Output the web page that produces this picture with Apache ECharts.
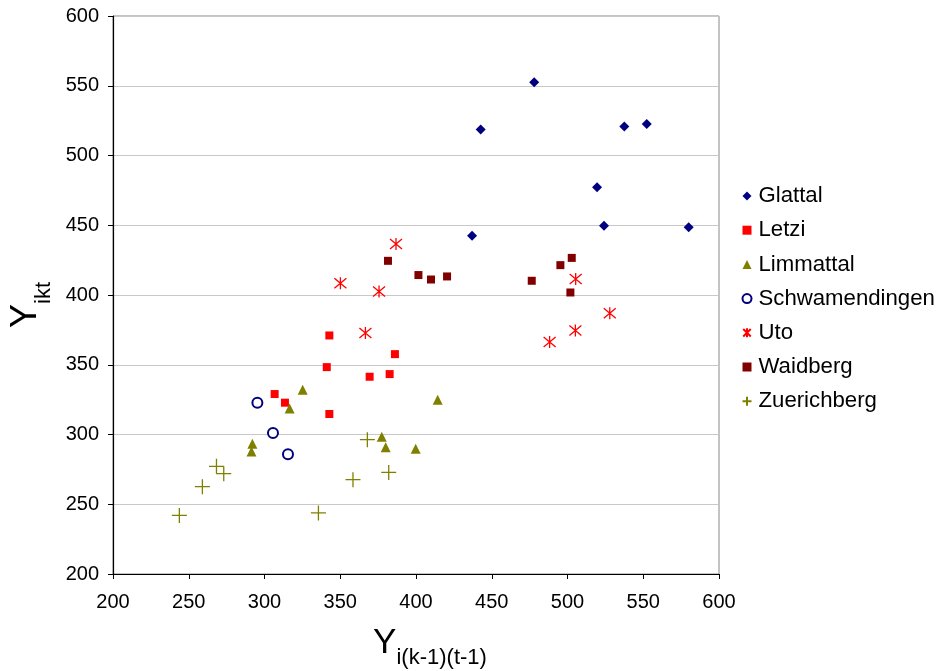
<!DOCTYPE html>
<html>
<head>
<meta charset="utf-8">
<script src="https://cdn.jsdelivr.net/npm/echarts@6/dist/echarts.min.js"></script>
<style>
  html, body { margin: 0; padding: 0; background: #fff; }
  #chart { width: 940px; height: 671px; }
</style>
</head>
<body>
<div id="chart"></div>
<script>
// data points [x, y] per region
var glattal = [[478, 552.5], [442.7, 518.6], [537.5, 520.7], [552.3, 522.6], [519.5, 477.3],
               [524.1, 449.6], [580, 448.6], [437, 442.4]];
var letzi = [[342.8, 371], [341.1, 348.3], [386.1, 357.6], [369.4, 341.4], [382.6, 343.3],
             [306.7, 329], [313.5, 322.8], [342.8, 314.7]];
var limmattal = [[325.2, 332.1], [316.6, 318.7], [292, 293.4], [291.4, 287.9], [377.4, 298.4],
                 [380, 290.8], [399.8, 289.8], [414.3, 325]];
var schwamendingen = [[295.3, 322.8], [305.6, 301.1], [315.5, 285.8]];
var uto = [[350.1, 408.5], [386.8, 436.5], [375.6, 402.5], [505.4, 411.4], [366.6, 372.7],
           [488.2, 366.3], [505.2, 374.6], [527.9, 387]];
var waidberg = [[381.5, 424.5], [401.6, 414.3], [409.9, 411.1], [420.5, 413.3], [476.4, 410.2],
                [495.3, 421.4], [502.8, 426.6], [501.9, 401.8]];
var zuerichberg = [[243.8, 242], [259, 262.6], [268.3, 277.2], [273.1, 271.9], [335.6, 243.8],
                   [358.4, 267.6], [367.9, 296.3], [382, 272.8]];

var seriesNames = ['Glattal', 'Letzi', 'Limmattal', 'Schwamendingen', 'Uto', 'Waidberg', 'Zuerichberg'];

var starPath = 'path://M0,0L10,10M10,0L0,10M5,-1L5,11';
var plusPath = 'path://M6,0L6,12M0,6L12,6';

var xTitleRich = {
    a: { fontSize: 35, color: '#000', verticalAlign: 'bottom' },
    b: { fontSize: 22, color: '#000', verticalAlign: 'bottom', padding: [0, 0, -8, 0] }
};
var yTitleRich = {
    a: { fontSize: 36, color: '#000', verticalAlign: 'bottom' },
    b: { fontSize: 22, color: '#000', verticalAlign: 'bottom', padding: [0, 0, -11, 0] }
};

var myChart = echarts.init(document.getElementById('chart'));
var option = {
    animation: false,
    textStyle: { fontFamily: 'Arial, "Liberation Sans", sans-serif' },
    grid: {
        left: 113,
        right: 221,
        top: 16,
        bottom: 97,
        show: true,
        borderColor: '#888888',
        borderWidth: 1,
        containLabel: false,
        outerBoundsMode: 'none'
    },
    legend: {
        orient: 'vertical',
        left: 735,
        top: 180,
        itemGap: 12.2,
        itemWidth: 9,
        itemHeight: 9,
        textStyle: { fontSize: 22.2, color: '#000', padding: [0, 0, 0, 2] },
        data: seriesNames
    },
    xAxis: {
        type: 'value',
        min: 200,
        max: 600,
        interval: 50,
        name: '{a|Y}{b|i(k-1)(t-1)}',
        nameLocation: 'middle',
        nameGap: 52,
        nameTextStyle: { padding: [0, 0, 0, 28], rich: xTitleRich },
        axisLine: { lineStyle: { color: '#000', width: 1.2 } },
        axisTick: { show: true, length: 5, lineStyle: { color: '#000' } },
        axisLabel: { fontSize: 20, color: '#000', margin: 18 },
        splitLine: { show: false }
    },
    yAxis: {
        type: 'value',
        min: 200,
        max: 600,
        interval: 50,
        name: '{a|Y}{b|ikt}',
        nameLocation: 'middle',
        nameRotate: 90,
        nameGap: 69,
        nameTextStyle: { padding: [0, 20, 0, 0], rich: yTitleRich },
        axisLine: { show: true, lineStyle: { color: '#000', width: 1.2 } },
        axisTick: { show: true, length: 5, lineStyle: { color: '#000' } },
        axisLabel: { fontSize: 20, color: '#000', margin: 14 },
        splitLine: { show: true, lineStyle: { color: '#c8c8c8', width: 1 } }
    },
    series: [
        {
            name: 'Glattal',
            type: 'scatter',
            symbol: 'diamond',
            symbolSize: 10,
            itemStyle: { color: '#000080', opacity: 1 },
            data: glattal
        },
        {
            name: 'Letzi',
            type: 'scatter',
            symbol: 'rect',
            symbolSize: 8,
            itemStyle: { color: '#ff0000', opacity: 1 },
            data: letzi
        },
        {
            name: 'Limmattal',
            type: 'scatter',
            symbol: 'triangle',
            symbolSize: 10,
            itemStyle: { color: '#808000', opacity: 1 },
            data: limmattal
        },
        {
            name: 'Schwamendingen',
            type: 'scatter',
            symbol: 'emptyCircle',
            symbolSize: 10,
            itemStyle: { color: '#000080', borderColor: '#000080', borderWidth: 1.3, opacity: 1 },
            data: schwamendingen
        },
        {
            name: 'Uto',
            type: 'scatter',
            symbol: starPath,
            symbolSize: 12,
            itemStyle: { color: 'none', borderColor: '#ff0000', borderWidth: 1.3, opacity: 1 },
            data: uto
        },
        {
            name: 'Waidberg',
            type: 'scatter',
            symbol: 'rect',
            symbolSize: 8,
            itemStyle: { color: '#800000', opacity: 1 },
            data: waidberg
        },
        {
            name: 'Zuerichberg',
            type: 'scatter',
            symbol: plusPath,
            symbolSize: 15,
            itemStyle: { color: 'none', borderColor: '#808000', borderWidth: 1.3, opacity: 1 },
            data: zuerichberg
        }
    ]
};
myChart.setOption(option);
</script>
</body>
</html>
